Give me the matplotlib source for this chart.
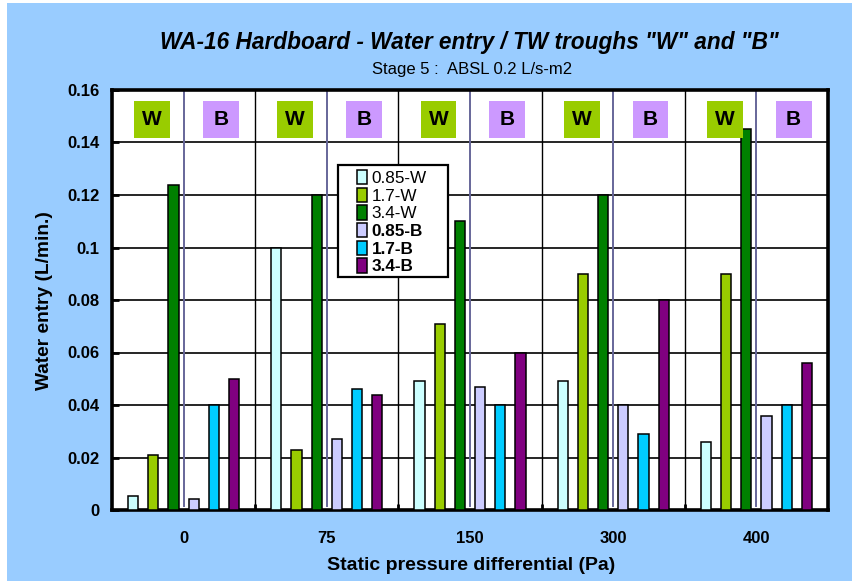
import matplotlib.pyplot as plt
import numpy as np
from matplotlib.patches import Rectangle

plt.rcParams['font.family'] = ['Liberation Sans', 'DejaVu Sans']

# data
pressures = ['0', '75', '150', '300', '400']
series = ['0.85-W', '1.7-W', '3.4-W', '0.85-B', '1.7-B', '3.4-B']
w_085 = [0.0055, 0.100, 0.049, 0.049, 0.026]
w_17 = [0.021, 0.023, 0.071, 0.090, 0.090]
w_34 = [0.124, 0.120, 0.110, 0.120, 0.145]
b_085 = [0.0043, 0.027, 0.047, 0.040, 0.036]
b_17 = [0.040, 0.046, 0.040, 0.029, 0.040]
b_34 = [0.050, 0.044, 0.060, 0.080, 0.056]
colors = ['#CCFFFF', '#99CC00', '#008000', '#CCCCFF', '#00CCFF', '#800080']
badges = ['W', 'B']
badge_colors = ['#99CC00', '#CC99FF']

values = [w_085, w_17, w_34, b_085, b_17, b_34]

fig = plt.figure(figsize=(8.52, 5.81), dpi=100)
fig.patch.set_facecolor('white')
fig.patches.append(Rectangle((7 / 852, 0), 1, 1 - 3 / 581, transform=fig.transFigure,
                             facecolor='#99CCFF', edgecolor='none', zorder=-10))

ax = fig.add_axes([112 / 852, 1 - 510 / 581, 716 / 852, 420 / 581])
ax.set_facecolor('white')

x = np.arange(len(pressures))
step = 0.141
width = 0.072
for i, (name, vals, col) in enumerate(zip(series, values, colors)):
    ax.bar(x + (i - 2.5) * step, vals, width, color=col, edgecolor='black',
           linewidth=1.1, label=name, zorder=3)

ax.set_xlim(-0.5, len(pressures) - 0.5)
ax.set_ylim(0, 0.16)
ax.set_yticks(np.arange(0, 0.161, 0.02))
ax.set_yticklabels(['0', '0.02', '0.04', '0.06', '0.08', '0.1', '0.12', '0.14', '0.16'])
ax.yaxis.grid(True, color='black', linewidth=1.2, zorder=1)
ax.set_axisbelow(True)

# category separators and W/B separators
for b in x[:-1] + 0.5:
    ax.axvline(b, color='black', linewidth=1.0, zorder=1)
for c in x:
    ax.axvline(c, ymin=0.01, color='#666699', linewidth=1.4, zorder=2)

ax.set_xticks(x)
ax.set_xticklabels(pressures)
ax.set_xticks(x[:-1] + 0.5, minor=True)
ax.tick_params(axis='x', which='major', length=0, pad=15, labelsize=12)
ax.tick_params(axis='x', which='minor', direction='in', length=4, width=2)
ax.tick_params(axis='y', direction='in', length=5, width=2, pad=9, labelsize=12)
for lab in ax.get_xticklabels() + ax.get_yticklabels():
    lab.set_fontweight('bold')

for s in ax.spines.values():
    s.set_linewidth(2.6)

# W / B badges above each group
bw, bh = 0.25, 0.0138
for c in x:
    for k, (txt, bc) in enumerate(zip(badges, badge_colors)):
        cx = c - 0.22 if k == 0 else c + 0.26
        ax.add_patch(Rectangle((cx - bw / 2, 0.1488 - bh / 2), bw, bh,
                               facecolor=bc, edgecolor='none', zorder=4))
        ax.text(cx, 0.1488, txt, ha='center', va='center', fontsize=15,
                fontweight='bold', zorder=5)

# legend box drawn separately (wider side padding than matplotlib gives)
ax.add_patch(Rectangle((226 / 716, 233 / 420), 110 / 716, 112 / 420,
                       transform=ax.transAxes, facecolor='white',
                       edgecolor='black', linewidth=1.6, zorder=6))
leg = ax.legend(loc='upper left', bbox_to_anchor=(245 / 716, 1 - 80 / 420),
                frameon=False, fontsize=12.3,
                handlelength=0.6, handleheight=0.9, handletextpad=0.25,
                labelspacing=0.1, borderpad=0.0, borderaxespad=0)
leg.set_zorder(7)
for t in leg.get_texts()[3:]:
    t.set_fontweight('bold')

fig.text(469 / 852, 1 - 43 / 581, 'WA-16 Hardboard - Water entry / TW troughs "W" and "B"',
         ha='center', va='center', fontsize=16.3, fontweight='bold', fontstyle='italic')
fig.text(472 / 852, 1 - 70 / 581, 'Stage 5 :  ABSL 0.2 L/s-m2',
         ha='center', va='center', fontsize=12)
fig.text(471 / 852, 1 - 565 / 581, 'Static pressure differential (Pa)',
         ha='center', va='center', fontsize=14, fontweight='bold')
fig.text(45 / 852, 1 - 301 / 581, 'Water entry (L/min.)', rotation=90,
         ha='center', va='center', fontsize=13.8, fontweight='bold')

fig.savefig('out.png', dpi=100, facecolor=fig.get_facecolor())
